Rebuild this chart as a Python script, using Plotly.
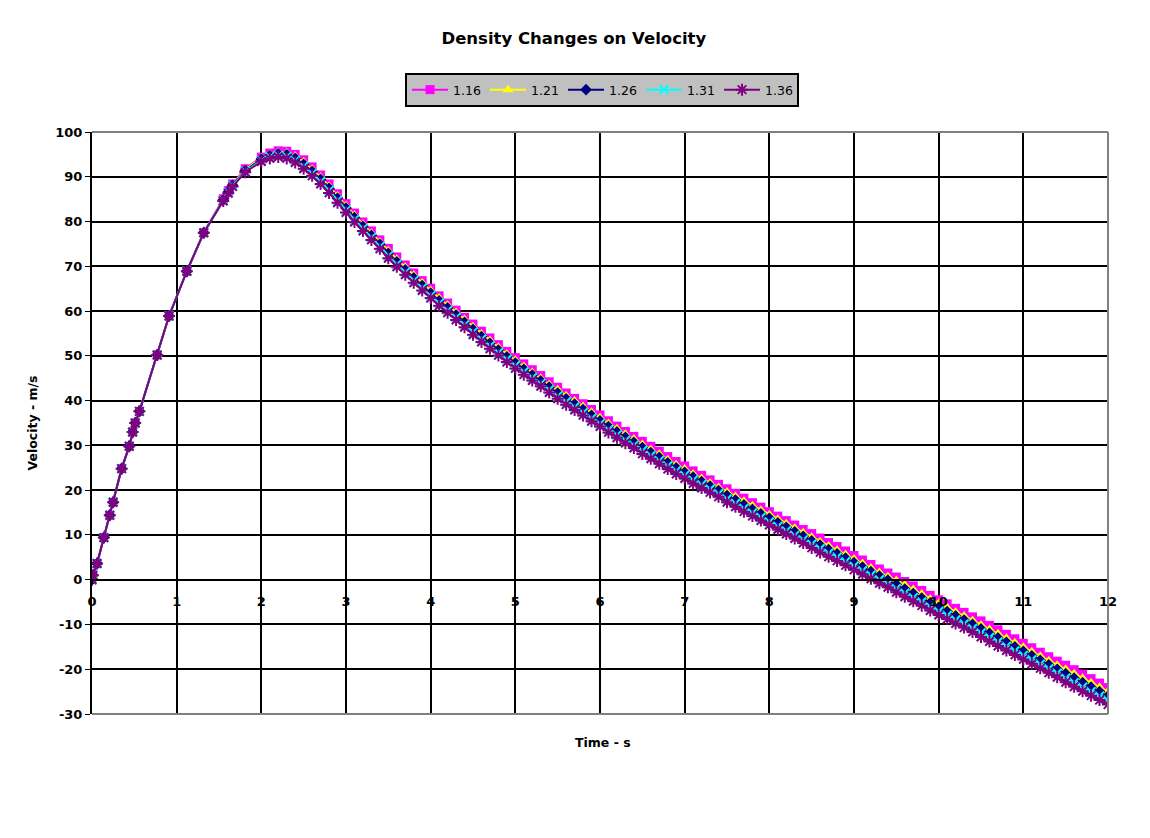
import plotly.graph_objects as go

# ---- data ----
series_names = ["1.16", "1.21", "1.26", "1.31", "1.36"]

time_s = [0, 0.01, 0.06, 0.14, 0.21, 0.25, 0.35, 0.44, 0.48, 0.51, 0.56, 0.77, 0.91, 1.12, 1.32,
          1.55, 1.61, 1.66, 1.81,
          2.0, 2.1, 2.2, 2.3, 2.4, 2.5, 2.6, 2.7, 2.8, 2.9,
          3.0, 3.1, 3.2, 3.3, 3.4, 3.5, 3.6, 3.7, 3.8, 3.9,
          4.0, 4.1, 4.2, 4.3, 4.4, 4.5, 4.6, 4.7, 4.8, 4.9,
          5.0, 5.1, 5.2, 5.3, 5.4, 5.5, 5.6, 5.7, 5.8, 5.9,
          6.0, 6.1, 6.2, 6.3, 6.4, 6.5, 6.6, 6.7, 6.8, 6.9,
          7.0, 7.1, 7.2, 7.3, 7.4, 7.5, 7.6, 7.7, 7.8, 7.9,
          8.0, 8.1, 8.2, 8.3, 8.4, 8.5, 8.6, 8.7, 8.8, 8.9,
          9.0, 9.1, 9.2, 9.3, 9.4, 9.5, 9.6, 9.7, 9.8, 9.9,
          10.0, 10.1, 10.2, 10.3, 10.4, 10.5, 10.6, 10.7, 10.8, 10.9,
          11.0, 11.1, 11.2, 11.3, 11.4, 11.5, 11.6, 11.7, 11.8, 11.9, 12.0]

v_116 = [0, 1.0, 3.6, 9.4, 14.4, 17.3, 24.8, 29.8, 33.0, 35.0, 37.6, 50.2, 58.9, 68.9, 77.5,
         85.1, 86.9, 88.4, 91.8,
         94.4, 95.3, 95.8, 95.7, 95.0, 93.8, 92.2, 90.4, 88.4, 86.2,
         84.0, 81.9, 79.9, 77.9, 75.9, 74.0, 72.1, 70.3, 68.5, 66.8,
         65.1, 63.4, 61.8, 60.2, 58.6, 57.1, 55.5, 54.0, 52.5, 51.0,
         49.6, 48.2, 46.9, 45.6, 44.2, 43.0, 41.7, 40.5, 39.3, 38.0,
         36.8, 35.5, 34.3, 33.1, 32.0, 30.9, 29.8, 28.7, 27.5, 26.4,
         25.4, 24.3, 23.3, 22.3, 21.3, 20.3, 19.3, 18.2, 17.2, 16.2,
         15.2, 14.2, 13.2, 12.2, 11.2, 10.3, 9.3, 8.3, 7.4, 6.4,
         5.4, 4.4, 3.4, 2.4, 1.5, 0.6, -0.4, -1.4, -2.4, -3.5,
         -4.5, -5.4, -6.4, -7.3, -8.3, -9.2, -10.2, -11.2, -12.2, -13.2,
         -14.2, -15.2, -16.2, -17.2, -18.2, -19.1, -20.1, -21.1, -22.1, -23.1, -24.1]

v_121 = [0, 1.0, 3.6, 9.4, 14.4, 17.3, 24.8, 29.8, 33.0, 35.0, 37.6, 50.2, 58.9, 68.9, 77.5,
         84.9, 86.7, 88.2, 91.6,
         94.2, 95.0, 95.5, 95.3, 94.6, 93.3, 91.7, 89.9, 87.9, 85.7,
         83.5, 81.4, 79.4, 77.4, 75.4, 73.5, 71.6, 69.8, 68.0, 66.3,
         64.6, 62.9, 61.3, 59.7, 58.1, 56.5, 54.9, 53.4, 51.9, 50.4,
         49.0, 47.6, 46.3, 45.0, 43.6, 42.4, 41.1, 39.9, 38.7, 37.4,
         36.2, 34.9, 33.7, 32.5, 31.4, 30.2, 29.1, 28.0, 26.8, 25.7,
         24.7, 23.6, 22.6, 21.6, 20.6, 19.6, 18.6, 17.5, 16.5, 15.5,
         14.5, 13.5, 12.5, 11.5, 10.5, 9.5, 8.5, 7.5, 6.6, 5.6,
         4.6, 3.6, 2.6, 1.6, 0.7, -0.2, -1.2, -2.2, -3.2, -4.3,
         -5.3, -6.2, -7.2, -8.1, -9.1, -10.1, -11.1, -12.1, -13.1, -14.1,
         -15.1, -16.1, -17.1, -18.1, -19.1, -20.0, -21.0, -22.0, -23.0, -24.0, -25.0]

v_126 = [0, 1.0, 3.6, 9.4, 14.4, 17.3, 24.8, 29.8, 33.0, 35.0, 37.6, 50.2, 58.9, 68.9, 77.5,
         84.8, 86.6, 88.1, 91.4,
         93.9, 94.7, 95.1, 94.9, 94.1, 92.8, 91.2, 89.4, 87.4, 85.2,
         83.0, 80.9, 78.9, 76.9, 74.9, 72.9, 71.0, 69.2, 67.4, 65.7,
         64.0, 62.3, 60.7, 59.1, 57.5, 55.9, 54.3, 52.8, 51.3, 49.8,
         48.4, 47.0, 45.7, 44.4, 43.0, 41.7, 40.4, 39.2, 38.0, 36.7,
         35.5, 34.2, 33.0, 31.8, 30.7, 29.5, 28.4, 27.3, 26.1, 25.0,
         24.0, 22.9, 21.9, 20.9, 19.9, 18.8, 17.8, 16.7, 15.7, 14.7,
         13.7, 12.7, 11.7, 10.7, 9.7, 8.7, 7.7, 6.7, 5.8, 4.8,
         3.8, 2.8, 1.8, 0.8, -0.1, -1.1, -2.1, -3.1, -4.1, -5.2,
         -6.2, -7.1, -8.1, -9.0, -10.0, -11.0, -12.0, -13.0, -14.0, -15.0,
         -16.0, -17.0, -18.0, -19.0, -20.0, -21.0, -22.0, -23.0, -24.0, -25.0, -26.0]

v_131 = [0, 1.0, 3.6, 9.4, 14.4, 17.3, 24.8, 29.8, 33.0, 35.0, 37.6, 50.2, 58.9, 68.9, 77.5,
         84.7, 86.5, 88.0, 91.2,
         93.6, 94.4, 94.7, 94.5, 93.6, 92.3, 90.7, 88.9, 86.9, 84.7,
         82.5, 80.4, 78.4, 76.4, 74.4, 72.3, 70.4, 68.6, 66.8, 65.1,
         63.4, 61.7, 60.1, 58.5, 56.9, 55.3, 53.7, 52.2, 50.7, 49.2,
         47.8, 46.4, 45.1, 43.8, 42.4, 41.0, 39.7, 38.5, 37.3, 36.0,
         34.8, 33.5, 32.3, 31.1, 30.0, 28.8, 27.7, 26.6, 25.4, 24.3,
         23.3, 22.2, 21.2, 20.2, 19.2, 18.0, 17.0, 15.9, 14.9, 13.9,
         12.9, 11.9, 10.9, 9.9, 8.9, 7.9, 6.9, 5.9, 5.0, 4.0,
         3.0, 2.0, 1.0, 0.0, -0.9, -2.0, -3.0, -4.0, -5.0, -6.1,
         -7.1, -8.0, -9.0, -9.9, -10.9, -11.9, -12.9, -13.9, -14.9, -15.9,
         -16.9, -17.9, -18.9, -19.9, -20.9, -22.0, -23.0, -24.0, -25.0, -26.0, -27.0]

v_136 = [0, 1.0, 3.6, 9.4, 14.4, 17.3, 24.8, 29.8, 33.0, 35.0, 37.6, 50.2, 58.9, 68.9, 77.5,
         84.6, 86.3, 87.8, 91.0,
         93.4, 94.1, 94.4, 94.1, 93.2, 91.8, 90.2, 88.4, 86.4, 84.2,
         82.0, 79.9, 77.9, 75.9, 73.9, 71.8, 69.9, 68.1, 66.3, 64.6,
         62.9, 61.2, 59.6, 58.0, 56.4, 54.7, 53.1, 51.6, 50.1, 48.6,
         47.2, 45.8, 44.5, 43.2, 41.8, 40.4, 39.1, 37.9, 36.7, 35.4,
         34.2, 32.9, 31.7, 30.5, 29.4, 28.1, 27.0, 25.9, 24.7, 23.6,
         22.6, 21.5, 20.5, 19.5, 18.5, 17.3, 16.3, 15.2, 14.2, 13.2,
         12.2, 11.2, 10.2, 9.2, 8.2, 7.1, 6.1, 5.1, 4.2, 3.2,
         2.2, 1.2, 0.2, -0.8, -1.7, -2.8, -3.8, -4.8, -5.8, -6.9,
         -7.9, -8.8, -9.8, -10.7, -11.7, -12.8, -13.8, -14.8, -15.8, -16.8,
         -17.8, -18.8, -19.8, -20.8, -21.8, -22.9, -23.9, -24.9, -25.9, -26.9, -27.9]

x_ticks = [0, 1, 2, 3, 4, 5, 6, 7, 8, 9, 10, 11, 12]
y_ticks = [-30, -20, -10, 0, 10, 20, 30, 40, 50, 60, 70, 80, 90, 100]

# ---- styles ----
styles = [
    dict(color="#FF00FF", symbol="square", size=9, lw=0),
    dict(color="#FFFF00", symbol="triangle-up", size=10, lw=0),
    dict(color="#000080", symbol="diamond", size=9, lw=0),
    dict(color="#00FFFF", symbol="x-thin", size=9, lw=2),
    dict(color="#800080", symbol="asterisk", size=10, lw=2),
]
values = [v_116, v_121, v_126, v_131, v_136]

BOLD = "DejaVu Sans, Liberation Sans, Arial, sans-serif"

fig = go.Figure()
for name, vals, st in zip(series_names, values, styles):
    fig.add_trace(go.Scatter(
        x=time_s, y=vals, name=name, mode="lines+markers",
        line=dict(color=st["color"], width=2),
        marker=dict(symbol=st["symbol"], size=st["size"], color=st["color"],
                    line=dict(color=st["color"], width=st["lw"])),
    ))

y0_frac = 30 / 130.0

fig.update_layout(
    width=1150, height=838,
    margin=dict(l=92, r=42, t=132, b=124),
    paper_bgcolor="white", plot_bgcolor="white",
    font=dict(family=BOLD, color="black", size=12),
    title=dict(text="<b>Density Changes on Velocity</b>", x=0.499, xanchor="center",
               y=1 - 38 / 838, yanchor="middle", font=dict(size=16.5, family=BOLD)),
    showlegend=True,
    legend=dict(orientation="h", x=0.502, xanchor="center", y=1 + (132 - 73) / 582, yanchor="top",
                bgcolor="#C0C0C0", bordercolor="black", borderwidth=2,
                font=dict(size=12.5, family=BOLD), entrywidth=27, entrywidthmode="pixels",
                itemwidth=36),
    xaxis=dict(range=[0, 12], tickvals=x_ticks, ticktext=[f"<b>{t}</b>" for t in x_ticks],
               showgrid=True, gridcolor="black", gridwidth=1.5,
               zeroline=False, showline=True, linecolor="black", linewidth=1.5,
               anchor="free", position=y0_frac, ticks="outside", ticklen=4, tickcolor="black",
               ticklabelstandoff=6,
               tickfont=dict(size=13, family=BOLD)),
    yaxis=dict(range=[-30, 100], tickvals=y_ticks, ticktext=[f"<b>{t}</b>" for t in y_ticks],
               showgrid=True, gridcolor="black", gridwidth=1.5,
               zeroline=True, zerolinecolor="black", zerolinewidth=1.5,
               showline=True, linecolor="black", linewidth=2,
               ticks="outside", ticklen=5, tickcolor="black",
               tickfont=dict(size=13, family=BOLD),
               title=dict(text="<b>Velocity - m/s</b>", font=dict(size=12.5, family=BOLD), standoff=15)),
    shapes=[
        dict(type="line", xref="paper", yref="paper", x0=0, x1=1, y0=1, y1=1,
             line=dict(color="#808080", width=2)),
        dict(type="line", xref="paper", yref="paper", x0=1, x1=1, y0=0, y1=1,
             line=dict(color="#808080", width=2)),
        dict(type="line", xref="paper", yref="paper", x0=0, x1=1, y0=0, y1=0,
             line=dict(color="#808080", width=2)),
    ],
    annotations=[
        dict(text="<b>Time - s</b>", xref="paper", yref="paper", x=0.503, y=-(742 - 714) / 582,
             xanchor="center", yanchor="middle", showarrow=False, font=dict(size=12.5, family=BOLD)),
    ],
)

fig.write_html("out.html")
